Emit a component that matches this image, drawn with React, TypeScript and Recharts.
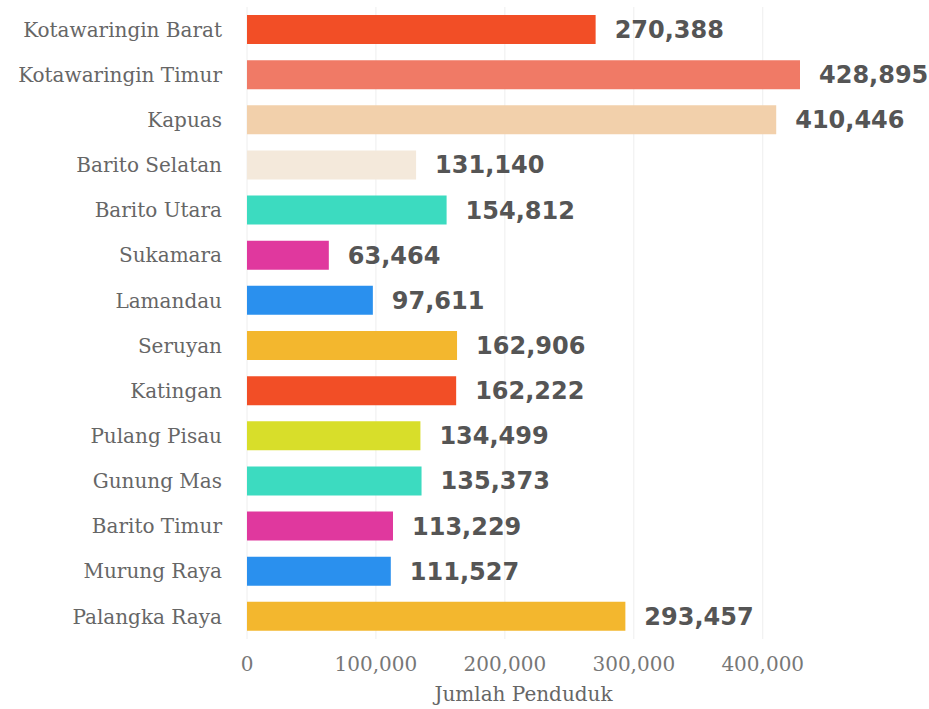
import React from "react";
import { BarChart, Bar, XAxis, YAxis, CartesianGrid, Cell, LabelList } from "recharts";

const regions = [
  "Kotawaringin Barat",
  "Kotawaringin Timur",
  "Kapuas",
  "Barito Selatan",
  "Barito Utara",
  "Sukamara",
  "Lamandau",
  "Seruyan",
  "Katingan",
  "Pulang Pisau",
  "Gunung Mas",
  "Barito Timur",
  "Murung Raya",
  "Palangka Raya",
];

const population = [
  270388, 428895, 410446, 131140, 154812, 63464, 97611, 162906, 162222, 134499, 135373, 113229, 111527, 293457,
];

const barColors = [
  "#F24E26",
  "#F07A66",
  "#F2D0AB",
  "#F4E9DB",
  "#3CDBC0",
  "#E0389E",
  "#2A90EE",
  "#F3B72E",
  "#F24E26",
  "#D8DE2A",
  "#3CDBC0",
  "#E0389E",
  "#2A90EE",
  "#F3B72E",
];

const xTicks = [0, 100000, 200000, 300000, 400000];

const data = regions.map((name, i) => ({ name, value: population[i] }));

const fmt = (v: number) => v.toLocaleString("en-US");

export default function App() {
  return (
    <div style={{ position: "absolute", left: 0, top: 0, background: "#fff" }}>
      <BarChart
        width={929}
        height={709}
        data={data}
        layout="vertical"
        margin={{ top: 7, right: 129, bottom: 0, left: 0 }}
        barCategoryGap={16}
      >
        <CartesianGrid
          horizontal={false}
          vertical={true}
          stroke="#eeeeee"
          verticalCoordinatesGenerator={(props: any) => {
            const sc = props?.xAxis?.scale;
            if (sc && typeof sc === "function") return xTicks.map((t) => sc(t));
            if (sc && typeof sc.map === "function") return xTicks.map((t) => sc.map(t));
            return [];
          }}
        />
        <XAxis
          type="number"
          domain={[0, 428895]}
          ticks={xTicks}
          tickFormatter={fmt}
          axisLine={false}
          tickLine={false}
          tickSize={0}
          tickMargin={18}
          height={70}
          tick={{ fontFamily: "DejaVu Serif", fontSize: 20, fill: "#777" }}
          label={{
            value: "Jumlah Penduduk",
            position: "insideBottom",
            offset: 8,
            style: { fontFamily: "DejaVu Serif", fontSize: 20, fill: "#666" },
          }}
        />
        <YAxis
          type="category"
          dataKey="name"
          width={247}
          axisLine={false}
          tickLine={false}
          tickSize={0}
          tickMargin={25}
          interval={0}
          tick={{ fontFamily: "DejaVu Serif", fontSize: 20, fill: "#666" }}
        />
        <Bar dataKey="value" barSize={29} isAnimationActive={false}>
          {data.map((d, i) => (
            <Cell key={d.name} fill={barColors[i]} />
          ))}
          <LabelList
            dataKey="value"
            position="right"
            offset={19}
            formatter={(v: any) => fmt(Number(v))}
            style={{ fontFamily: "DejaVu Sans", fontWeight: 700, fontSize: 24, fill: "#555" }}
          />
        </Bar>
      </BarChart>
    </div>
  );
}
